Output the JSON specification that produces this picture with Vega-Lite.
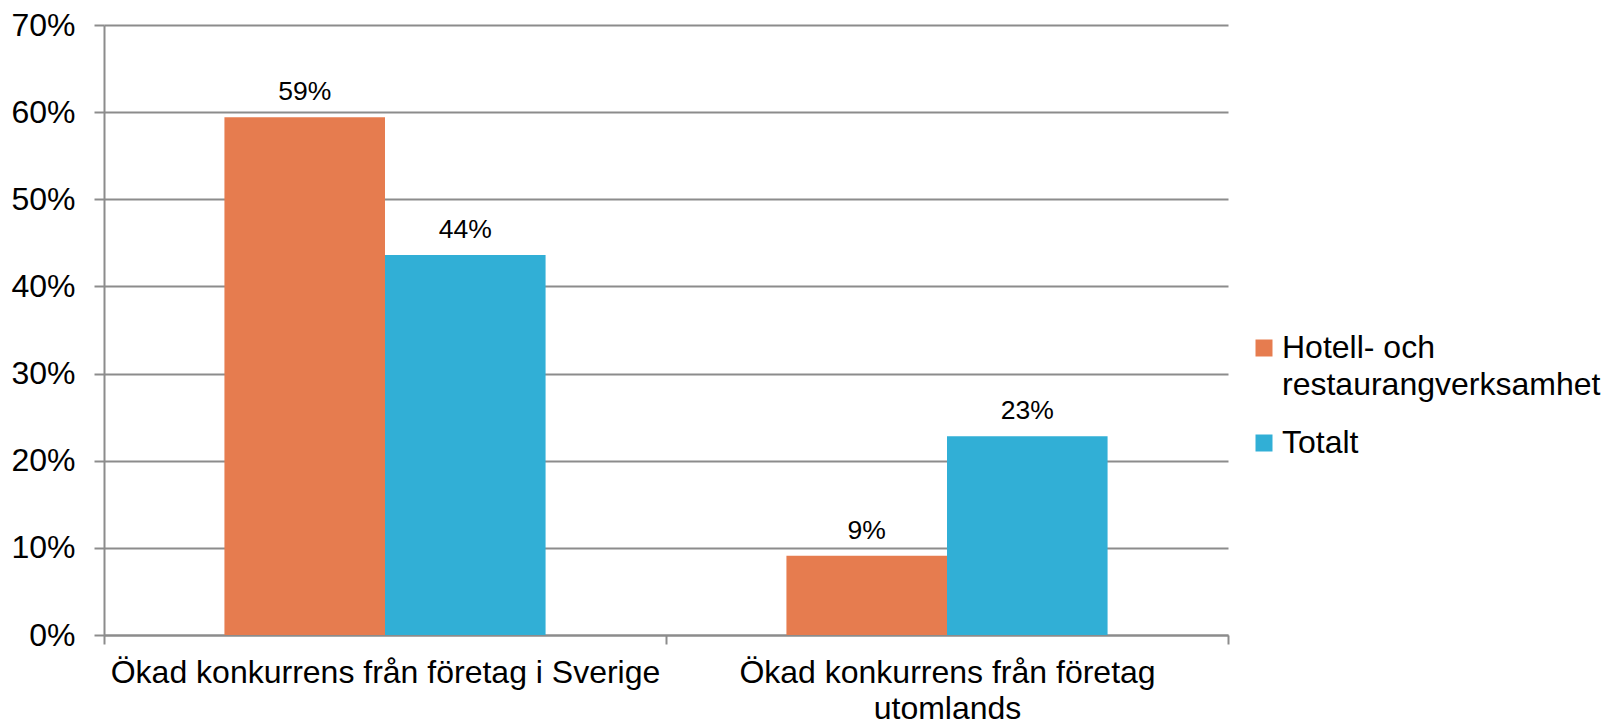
{
  "$schema": "https://vega.github.io/schema/vega-lite/v6.json",
  "width": 1124,
  "height": 610,
  "autosize": {"type": "none"},
  "padding": {"left": 104, "top": 25, "right": 376, "bottom": 88},
  "background": "white",
  "config": {"font": "Liberation Sans", "view": {"stroke": null}},
  "data": {
    "values": [
      {"kategori": "Ökad konkurrens från företag i Sverige", "serie": "Hotell- och restaurangverksamhet", "andel": 0.594, "etikett": "59%"},
      {"kategori": "Ökad konkurrens från företag i Sverige", "serie": "Totalt", "andel": 0.436, "etikett": "44%"},
      {"kategori": "Ökad konkurrens från företag utomlands", "serie": "Hotell- och restaurangverksamhet", "andel": 0.091, "etikett": "9%"},
      {"kategori": "Ökad konkurrens från företag utomlands", "serie": "Totalt", "andel": 0.228, "etikett": "23%"}
    ]
  },
  "encoding": {
    "x": {
      "field": "kategori",
      "type": "nominal",
      "sort": null,
      "scale": {"paddingInner": 0, "paddingOuter": 0},
      "axis": {
        "title": null,
        "labelAngle": 0,
        "labelFontSize": 32,
        "labelColor": "#000000",
        "labelPadding": 13,
        "labelLineHeight": 36,
        "labelBaseline": "top",
        "labelLimit": 0,
        "labelExpr": "datum.label == 'Ökad konkurrens från företag utomlands' ? ['Ökad konkurrens från företag', 'utomlands'] : datum.label",
        "tickBand": "extent",
        "tickSize": 9,
        "tickWidth": 2,
        "tickColor": "#8c8c8c",
        "domainColor": "#8c8c8c",
        "domainWidth": 2,
        "grid": false
      }
    },
    "xOffset": {
      "field": "serie",
      "type": "nominal",
      "sort": null,
      "scale": {"paddingInner": 0, "paddingOuter": 0.75}
    },
    "y": {
      "field": "andel",
      "type": "quantitative",
      "scale": {"domain": [0, 0.7], "nice": false},
      "axis": {
        "title": null,
        "format": ".0%",
        "values": [0, 0.1, 0.2, 0.3, 0.4, 0.5, 0.6, 0.7],
        "labelFontSize": 32,
        "labelColor": "#000000",
        "labelPadding": 19,
        "grid": true,
        "gridColor": "#8c8c8c",
        "gridWidth": 2,
        "domainColor": "#8c8c8c",
        "domainWidth": 2,
        "tickColor": "#8c8c8c",
        "tickWidth": 2,
        "tickSize": 10
      }
    }
  },
  "layer": [
    {
      "mark": {"type": "bar"},
      "encoding": {
        "color": {
          "field": "serie",
          "type": "nominal",
          "scale": {
            "domain": ["Hotell- och restaurangverksamhet", "Totalt"],
            "range": ["#E67C4F", "#31AFD6"]
          },
          "legend": {
            "title": null,
            "orient": "none",
            "legendX": 1144,
            "legendY": 307,
            "padding": 0,
            "symbolType": "square",
            "symbolSize": 289,
            "symbolStrokeWidth": 0,
            "symbolOpacity": 1,
            "labelFontSize": 32,
            "labelColor": "#000000",
            "labelOffset": 2,
            "labelLimit": 0,
            "rowPadding": 26,
            "labelExpr": "datum.label == 'Hotell- och restaurangverksamhet' ? ['Hotell- och', 'restaurangverksamhet'] : datum.label",
            "encode": {"labels": {"update": {"lineHeight": {"value": 37}}}}
          }
        }
      }
    },
    {
      "mark": {"type": "text", "dy": -17, "baseline": "alphabetic", "fontSize": 26.5, "color": "#000000"},
      "encoding": {"text": {"field": "etikett"}}
    }
  ]
}
